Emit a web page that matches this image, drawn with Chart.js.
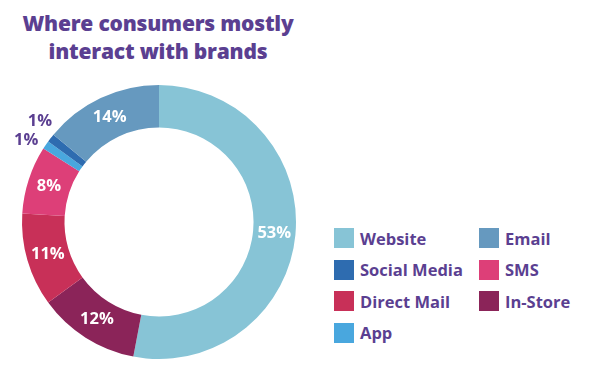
<!DOCTYPE html>
<html>
<head>
<meta charset="utf-8">
<script src="https://cdn.jsdelivr.net/npm/chart.js@4"></script>
<style>
  body { margin: 0; width: 599px; height: 376px; background: #fff; position: relative; overflow: hidden; font-family: 'Open Sans', sans-serif; }
  #title { position: absolute; left: 0; top: 9px; width: 316px; text-align: center; color: #5b3f91; font-weight: 800; font-size: 21px; line-height: 28px; letter-spacing: -0.2px; }
  #wrap { position: absolute; left: 0; top: 66px; width: 318px; height: 311px; }
  #legend { position: absolute; left: 334px; top: 228px; display: grid; grid-template-columns: 145px 100px; row-gap: 11.5px; }
  .item { display: flex; align-items: center; height: 20px; color: #5b3f91; font-weight: 700; font-size: 16.5px; }
  .box { width: 20px; height: 20px; margin-right: 6px; flex: none; }
</style>
</head>
<body>
<div id="title">Where consumers mostly<br>interact with brands</div>
<div id="wrap"><canvas id="pie"></canvas></div>
<div id="legend"></div>
<script>
// slices, clockwise from the top
const categories = ['Website', 'In-Store', 'Direct Mail', 'SMS', 'App', 'Social Media', 'Email'];
const shares = [53, 12, 11, 8, 1, 1, 14];
const colors = ['#87c4d6', '#8b2459', '#c83058', '#dd3f78', '#49a7de', '#2e6cb0', '#6699bf'];
const legendOrder = ['Website', 'Email', 'Social Media', 'SMS', 'Direct Mail', 'In-Store', 'App'];

const sliceLabels = {
    id: 'sliceLabels',
    afterDatasetsDraw(chart) {
        const ctx = chart.ctx;
        const meta = chart.getDatasetMeta(0);
        ctx.save();
        ctx.font = "700 16.5px 'Open Sans'";
        ctx.textAlign = 'center';
        ctx.textBaseline = 'middle';
        // small slices get their label outside, spread apart a bit
        const outside = [];
        meta.data.forEach((arc, i) => {
            const txt = shares[i] + '%';
            if (shares[i] >= 5) {
                const p = arc.tooltipPosition();
                ctx.fillStyle = '#ffffff';
                ctx.fillText(txt, p.x, p.y);
            } else {
                outside.push({ arc: arc, txt: txt, a: (arc.startAngle + arc.endAngle) / 2 });
            }
        });
        const minGap = 8.6 * Math.PI / 180;
        for (let k = 1; k < outside.length; k++) {
            const d = outside[k].a - outside[k - 1].a;
            if (d < minGap) {
                outside[k - 1].a -= (minGap - d) / 2;
                outside[k].a += (minGap - d) / 2;
            }
        }
        ctx.fillStyle = '#5b3f91';
        outside.forEach(o => {
            const r = o.arc.outerRadius + 19;
            ctx.fillText(o.txt, o.arc.x + Math.cos(o.a) * r, o.arc.y + Math.sin(o.a) * r);
        });
        ctx.restore();
    }
};

const chart = new Chart(document.getElementById('pie').getContext('2d'), {
    type: 'doughnut',
    data: {
        labels: categories,
        datasets: [{
            data: shares,
            backgroundColor: colors,
            borderWidth: 0
        }]
    },
    options: {
        responsive: true,
        maintainAspectRatio: false,
        animation: false,
        cutout: '69%',
        layout: { padding: { left: 22, right: 22, top: 19, bottom: 18 } },
        plugins: {
            legend: { display: false },
            tooltip: { enabled: false }
        }
    },
    plugins: [sliceLabels]
});

const legend = document.getElementById('legend');
legendOrder.forEach(name => {
    const i = categories.indexOf(name);
    const item = document.createElement('div');
    item.className = 'item';
    item.innerHTML = '<span class="box" style="background:' + colors[i] + '"></span>' + name;
    legend.appendChild(item);
});
</script>
</body>
</html>
